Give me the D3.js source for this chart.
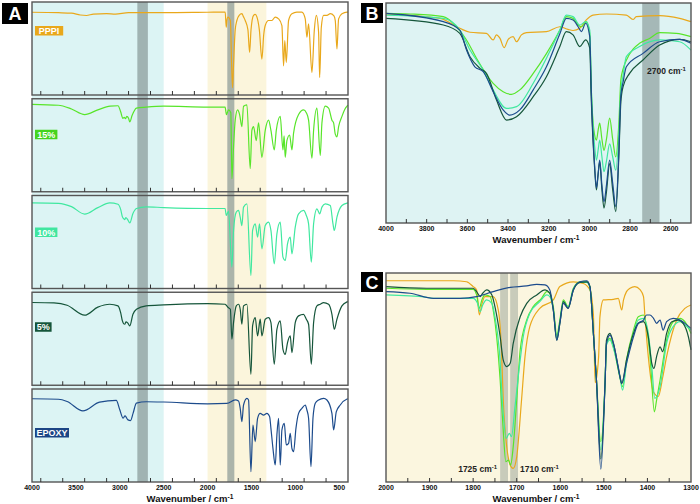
<!DOCTYPE html>
<html>
<head>
<meta charset="utf-8">
<script src="https://cdn.jsdelivr.net/npm/d3@7"></script>
<style>
  body { margin: 0; background: #fff; }
  text { font-family: "Liberation Sans", Arial, sans-serif; font-weight: bold; }
</style>
</head>
<body>
<svg id="chart" width="700" height="504"></svg>
<script>
// sample names, top to bottom in panel A
const sampleNames = ["PPPI", "15%", "10%", "5%", "EPOXY"];

// panel A: full range spectra, [wavenumber, transmittance % of panel]
const pppiA = [[4000,89],[3700,88.5],[3550,88],[3450,86],[3380,85.5],[3300,87],[3150,87.5],[3050,87],[2900,88.5],[2500,88.5],[2000,89],[1799,89.2],[1787,72.9],[1780,80],[1768,83.8],[1740,80],[1725,30],[1715,7.9],[1705,30],[1685,70],[1666,80.1],[1640,85.6],[1609,87.4],[1590,84],[1571,80.1],[1540,70],[1521,45.8],[1505,70],[1476,85.6],[1457,86.6],[1438,84],[1410,70],[1381,38.6],[1360,65],[1343,74.7],[1305,80.1],[1267,80.1],[1229,83.8],[1191,81.9],[1153,74.7],[1134,31.4],[1120,58.5],[1103,35],[1077,80.1],[1039,87.4],[982,89.2],[925,89.2],[887,81.9],[868,62.1],[849,76.5],[811,24.2],[784,69.3],[761,85.6],[735,67.5],[723,18.8],[704,72.9],[678,85.6],[640,85.6],[602,87.4],[560,85],[545,80],[526,49.5],[507,81.9],[469,87.4],[411,89.2],[400,89.2]];
const pct15A = [[4000,94],[3700,93],[3550,89],[3400,83],[3250,88],[3110,92],[3020,92.5],[2990,86],[2965,79],[2950,80],[2935,78.5],[2920,81],[2900,79],[2886,75],[2860,82],[2810,90],[2700,91],[2500,92],[2000,91],[1800,91],[1785,83],[1761,88],[1735,85],[1723,14],[1704,48],[1685,77],[1658,88],[1635,83],[1609,70],[1590,92],[1552,93.5],[1514,25],[1495,66],[1476,70],[1445,55],[1419,74],[1381,37],[1343,66],[1305,77],[1278,66],[1240,45],[1217,66],[1172,81],[1141,45],[1128,60],[1115,37],[1096,55],[1065,61],[1039,45],[1020,63],[963,83],[906,88],[875,85],[849,77],[811,36],[792,66],[754,90],[716,39],[697,74],[659,92],[621,90],[583,77],[564,74],[545,62],[526,59],[507,70],[469,81],[440,88],[411,92],[400,93]];
const pct10A = [[4000,92],[3700,91.5],[3550,88],[3400,80],[3250,87],[3114,92],[3020,90.6],[2990,85],[2970,77],[2955,75],[2943,74.1],[2930,76.3],[2910,74],[2886,70.5],[2850,80.6],[2810,86],[2700,87.8],[2500,87],[2000,86],[1800,86],[1787,78.5],[1761,83.2],[1723,22.9],[1704,62.4],[1673,82.1],[1647,83.9],[1628,76.7],[1609,67.7],[1590,87.5],[1552,91],[1506,14],[1487,62.4],[1457,69.5],[1430,55.2],[1408,69.5],[1381,42.7],[1343,67.7],[1305,71.3],[1278,62.4],[1240,26.5],[1210,58.8],[1172,71.3],[1141,33.7],[1115,30.1],[1089,48],[1058,55.2],[1039,37.3],[1001,66],[963,80.3],[906,83.9],[875,78.5],[849,69.5],[818,28.3],[792,69.5],[754,85.7],[723,80.3],[697,87.5],[659,91],[602,89.2],[571,69.5],[556,62.4],[526,76.7],[469,89.2],[411,91.8],[400,92]];
const pct5A = [[4000,89],[3750,88.5],[3600,86],[3400,75.3],[3250,84],[3114,87.1],[3020,85.3],[2990,78],[2970,69.2],[2955,66],[2943,65.6],[2930,68.1],[2910,67],[2886,63.8],[2850,76.3],[2810,81.7],[2700,85.3],[2500,86.4],[2000,87.8],[1800,87.1],[1787,86],[1770,84],[1740,81.7],[1723,49.5],[1704,67.4],[1673,85.3],[1647,87.1],[1628,81.7],[1609,65.6],[1590,85.3],[1552,87.1],[1506,11.8],[1487,63.8],[1457,72.8],[1430,53],[1400,71],[1381,53],[1343,71],[1305,72.8],[1278,67.4],[1240,22.6],[1210,60.2],[1172,69.2],[1141,38.7],[1115,33.3],[1089,45.9],[1058,53],[1039,35.1],[1001,67.4],[963,74.6],[906,76.3],[875,71],[849,65.6],[818,22.6],[792,67.4],[754,85.3],[716,87.1],[678,88.9],[621,87.1],[583,76.3],[556,60.2],[526,71],[469,85.3],[411,89.6],[400,90]];
const epoxyA = [[4000,89.5],[3700,89],[3600,86.6],[3420,76.5],[3230,85.9],[3040,87.7],[3000,77.6],[2962,68.6],[2940,71.1],[2906,66.8],[2878,66.1],[2848,74],[2811,84.8],[2697,86.3],[2500,86],[2000,84.1],[1780,84.6],[1685,88.2],[1647,87.1],[1628,79.2],[1609,64.9],[1590,82.8],[1552,90],[1533,88.2],[1506,11.1],[1483,61.3],[1457,43.4],[1430,68.5],[1400,73.8],[1362,72],[1324,73.8],[1293,70.3],[1278,57.7],[1255,36.2],[1229,18.3],[1210,50.5],[1191,68.5],[1172,18.3],[1153,55.9],[1126,63.1],[1103,39.8],[1077,41.6],[1058,52.3],[1039,36.2],[1020,32.6],[993,57.7],[963,73.8],[925,79.2],[887,82.8],[868,77.4],[849,68.5],[822,16.5],[799,68.5],[773,84.6],[735,88.2],[678,90],[640,88.2],[583,73.8],[564,55.9],[533,75.6],[488,82.8],[411,89.2],[400,89.5]];

// panel B: 4000-2500 cm-1
const pppiB = [[4000,95],[3735,93],[3637,88.5],[3587,86.7],[3506,86.2],[3473,83.2],[3457,85.5],[3440,84],[3419,79.7],[3399,83.5],[3375,84.7],[3358,82.4],[3334,85.5],[3309,86.5],[3211,87],[3145,89.2],[3105,88],[3080,87.5],[3047,88.5],[3015,92.3],[2982,94.5],[2916,95],[2818,94.5],[2785,92.5],[2769,93.8],[2654,94.3],[2556,93],[2500,91.5]];
const pct15B = [[4000,95.3],[3882,95],[3718,93.8],[3653,89.2],[3604,83.2],[3555,74.9],[3473,63.5],[3424,59.7],[3383,58.5],[3342,60.5],[3276,68],[3211,77],[3145,87.7],[3113,93.8],[3080,93],[3055,90],[3039,89.2],[3015,91.5],[2998,86],[2990,60],[2974,40],[2965,37.7],[2957,42],[2949,45.4],[2938,38],[2928,33],[2916,38],[2900,47.7],[2885,38],[2870,30],[2855,45],[2845,65],[2834,70],[2818,74],[2785,79],[2753,81.7],[2704,83.9],[2654,86.5],[2573,86.2],[2500,84.7]];
const pct10B = [[4000,94.5],[3718,93],[3637,87.7],[3587,78.6],[3522,69.5],[3473,60.5],[3407,52.1],[3358,52.9],[3276,63.5],[3211,74.9],[3145,87.7],[3113,94.5],[3080,93.8],[3047,90],[3018,91.5],[2998,87.7],[2990,60],[2974,35],[2965,28.6],[2957,33],[2949,37.7],[2938,30],[2928,23.3],[2916,28],[2900,36],[2885,30],[2870,24],[2855,40],[2845,60],[2834,67],[2818,75.6],[2753,80.2],[2654,83.2],[2556,82.4],[2500,78.6]];
const pct5B = [[4000,93],[3718,90],[3637,86.2],[3587,75.6],[3538,70.3],[3506,68],[3457,56],[3407,46.8],[3358,48.3],[3276,57.4],[3211,66.5],[3145,80.2],[3113,87],[3080,85.5],[3047,80.2],[3018,83.2],[2998,79.5],[2990,55],[2974,25],[2965,15],[2957,22],[2949,27.9],[2938,15],[2928,6.8],[2916,14],[2900,27],[2885,15],[2870,5.2],[2855,30],[2845,55],[2834,62],[2802,68],[2736,74.1],[2654,80.9],[2556,83.5],[2500,82.4]];
const epoxyB = [[4000,95.3],[3718,91.5],[3637,87.7],[3604,78.6],[3563,71],[3522,68.8],[3473,59.7],[3424,51.4],[3391,49],[3342,51.4],[3276,60.5],[3211,71],[3145,86],[3113,93],[3080,92.3],[3055,89.2],[3039,87],[3018,90.8],[2998,84.7],[2990,58],[2974,26],[2965,16],[2957,22],[2949,28.6],[2938,17],[2928,9.7],[2916,17],[2900,28.6],[2885,18],[2870,7.4],[2855,32],[2845,58],[2834,64],[2818,71],[2736,77.1],[2654,82.4],[2556,83.5],[2500,81.7]];

// panel C: 2000-1300 cm-1
const pppiC = [[2000,96.3],[1845,96.3],[1815,95.8],[1800,93.5],[1792,91.9],[1786,80],[1780,85],[1773,88.7],[1754,88.7],[1742,82],[1735,63],[1731,40],[1723,17],[1712,7],[1708,6.5],[1700,12],[1689,39],[1681,60],[1670,74.3],[1647,83.1],[1616,87.1],[1601,93.5],[1570,95.8],[1547,95],[1532,91.9],[1524,80],[1520,47.5],[1512,60],[1509,79],[1501,87.1],[1478,87.4],[1467,87.9],[1459,82.3],[1455,87],[1448,91.1],[1440,92.7],[1429,93.5],[1417,92],[1409,88.7],[1406,80],[1398,60],[1386,43],[1375,41],[1365,50],[1356,60],[1333,77.5],[1314,83.1],[1300,84.7]];
const pct15C = [[2000,92.7],[1907,92.2],[1800,92.2],[1792,89.5],[1786,83.1],[1780,87.1],[1773,89.5],[1761,88.7],[1754,82.3],[1746,69.5],[1738,48.8],[1731,24.9],[1725,9.7],[1719,10.5],[1714,8.1],[1708,16.9],[1700,39.2],[1692,63.2],[1677,77.5],[1662,83.9],[1643,87.9],[1631,91.1],[1624,90.3],[1616,83.9],[1608,70.3],[1601,77.5],[1593,87.1],[1582,83.9],[1570,92.7],[1555,95.8],[1539,95.8],[1532,93.5],[1524,71],[1517,48.8],[1507,19.3],[1497,48.8],[1494,66.3],[1486,68.7],[1478,64.7],[1463,50],[1457,45.6],[1448,58.4],[1432,72.7],[1421,79.1],[1409,79.9],[1402,74.3],[1394,60],[1384,33.6],[1379,39.2],[1371,48.8],[1356,67.9],[1341,76.7],[1325,78.3],[1314,76.7],[1300,71.1]];
const pct10C = [[2000,89.5],[1907,88.4],[1891,87.9],[1800,87.9],[1790,85.5],[1784,81.5],[1778,84.7],[1769,87.1],[1757,85.5],[1750,79.1],[1740,63.2],[1731,32.8],[1724,20.9],[1717,23.3],[1712,21.7],[1704,36],[1692,58.4],[1685,69.5],[1670,80.7],[1647,86.3],[1631,89.5],[1624,88.7],[1616,82.3],[1608,68.7],[1601,76.7],[1593,86.3],[1582,83.6],[1570,92.2],[1555,95.5],[1539,95.5],[1532,93.1],[1524,71],[1517,48.8],[1507,15.3],[1497,48.8],[1494,65.5],[1486,68],[1478,64],[1463,50],[1457,44],[1448,56.8],[1432,71.1],[1421,77.5],[1409,78.3],[1398,71.1],[1390,55.2],[1383,40],[1371,45.6],[1356,66.3],[1341,74.3],[1325,76.7],[1314,75.1],[1300,72.7]];
const pct5C = [[2000,93.5],[1907,92.7],[1800,92.7],[1792,91.1],[1784,88.7],[1778,90.3],[1769,91.9],[1757,89.5],[1750,83.9],[1738,69.5],[1731,58.4],[1723,55.2],[1715,56.8],[1708,66.3],[1692,79.1],[1677,85.5],[1654,89.5],[1635,91.9],[1624,90.3],[1616,82.3],[1608,67.9],[1601,75.9],[1593,86.3],[1582,83.1],[1570,91.9],[1555,95.5],[1539,95.8],[1532,93.5],[1524,71],[1517,48.8],[1507,11],[1497,48.8],[1494,67.9],[1486,71.1],[1478,66.3],[1463,50.4],[1459,47],[1448,58.4],[1432,71.1],[1421,75.9],[1409,76.7],[1398,69.5],[1390,56.8],[1385,54.4],[1379,60],[1371,64.7],[1365,62.4],[1356,71.1],[1344,76.7],[1329,77.5],[1318,75.9],[1306,69.5],[1300,63.2]];
const epoxyC = [[2000,91.1],[1945,90.3],[1891,87.9],[1830,87.9],[1792,88.7],[1754,91.1],[1715,93.1],[1677,93.8],[1654,94.6],[1635,94.3],[1624,91.9],[1616,82.3],[1608,67.9],[1601,75.9],[1593,85.5],[1582,83.1],[1570,91.9],[1555,95.8],[1539,96.3],[1532,93.5],[1524,71.1],[1517,48.8],[1507,6.1],[1497,48.8],[1494,66.3],[1486,70.3],[1478,66.3],[1467,55.2],[1459,47.2],[1448,56.8],[1432,69.5],[1421,75.9],[1409,77.5],[1402,79.9],[1394,79.9],[1386,78.3],[1379,75.9],[1371,77.5],[1364,72.7],[1356,76.7],[1341,78.3],[1325,77.5],[1314,75.9],[1300,73.5]];

// shaded wavenumber bands
const cyanBandA = [4000, 2500];
const yellowBandA = [2000, 1330];
const greyBandsA = [[2800, 2680], [1775, 1695]];
const greyBandsB = [[2740, 2655]];
const greyBandsC = [[1738, 1720], [1715, 1697]];

// tick values
const ticksA = [4000, 3500, 3000, 2500, 2000, 1500, 1000, 500];
const ticksB = [4000, 3800, 3600, 3400, 3200, 3000, 2800, 2600];
const ticksC = [2000, 1900, 1800, 1700, 1600, 1500, 1400, 1300];

const seriesA = [pppiA, pct15A, pct10A, pct5A, epoxyA];
const seriesB = [pppiB, pct15B, pct10B, pct5B, epoxyB];
const seriesC = [pppiC, pct15C, pct10C, pct5C, epoxyC];

const colors = ["#e9a81b", "#58e52a", "#40e8a0", "#15553a", "#1c4b8c"];
const tagColors = ["#e9a81b", "#45d41f", "#40e6a0", "#15553a", "#1c4585"];
const tagOffsets = [24, 31, 32, 30, 39];

const svg = d3.select("#chart");
const frame = "#555";

function superCm(sel, prefix) {
    sel.text(prefix + "cm");
    sel.append("tspan").attr("dy", -3.5).attr("font-size", "0.7em").text("-1");
}

function panelLetter(x, y, w, h, letter) {
    svg.append("rect").attr("x", x).attr("y", y).attr("width", w).attr("height", h).attr("fill", "#000");
    svg.append("text").attr("x", x + w / 2).attr("y", y + h / 2 + 6.5)
        .attr("text-anchor", "middle").attr("fill", "#fff").attr("font-size", 18).text(letter);
}

function bottomAxis(x, y0, y1, ticks, minorStep, labeled) {
    const [d0, d1] = x.domain();
    const minor = d3.range(d1, d0 + 0.1, minorStep).filter(t => t < d0 && t > d1);
    svg.append("g").selectAll("line").data(minor).join("line")
        .attr("x1", d => x(d)).attr("x2", d => x(d))
        .attr("y1", y1).attr("y2", y1 - 4)
        .attr("stroke", "#333").attr("stroke-width", 1);
    if (labeled) {
        svg.append("g").selectAll("text").data(ticks).join("text")
            .attr("x", d => x(d)).attr("y", y1 + 8)
            .attr("text-anchor", "middle").attr("font-size", 7).attr("fill", "#111")
            .text(d => d);
    }
}

function axisTitle(cx, y) {
    const t = svg.append("text").attr("x", cx).attr("y", y).attr("text-anchor", "middle")
        .attr("font-size", 9.5).attr("fill", "#111");
    superCm(t, "Wavenumber / ");
}

const line = (x, y) => d3.line().x(d => x(d[0])).y(d => y(d[1])).curve(d3.curveMonotoneX);

// ---------- panel A ----------
const xA = d3.scaleLinear().domain([4000, 400]).range([32, 348]);
const topA = 2, botA = 482, stepA = 96.75, hA = 93;

svg.append("rect").attr("x", xA(cyanBandA[0])).attr("y", topA)
    .attr("width", xA(cyanBandA[1]) - xA(cyanBandA[0])).attr("height", botA - topA).attr("fill", "#dcf4f4");
svg.append("rect").attr("x", xA(yellowBandA[0])).attr("y", topA)
    .attr("width", xA(yellowBandA[1]) - xA(yellowBandA[0])).attr("height", botA - topA).attr("fill", "#fbf5dc");
svg.append("g").selectAll("rect").data(greyBandsA).join("rect")
    .attr("x", d => xA(d[0])).attr("width", d => xA(d[1]) - xA(d[0]))
    .attr("y", topA).attr("height", botA - topA)
    .attr("fill", "#7f918f").attr("opacity", 0.65);

seriesA.forEach((data, i) => {
    const t = topA + i * stepA, b = t + hA;
    const y = d3.scaleLinear().domain([0, 100]).range([b, t]);
    svg.append("path").datum(data).attr("d", line(xA, y))
        .attr("fill", "none").attr("stroke", colors[i]).attr("stroke-width", 1.2);
    svg.append("rect").attr("x", 32).attr("y", t).attr("width", 316).attr("height", hA)
        .attr("fill", "none").attr("stroke", frame).attr("stroke-width", 1.4);
    bottomAxis(xA, t, b, ticksA, 250, i === seriesA.length - 1);

    const tw = sampleNames[i].length * 5.8 + 5;
    svg.append("rect").attr("x", 35).attr("y", t + tagOffsets[i]).attr("width", tw).attr("height", 9.5)
        .attr("fill", tagColors[i]);
    svg.append("text").attr("x", 35 + tw / 2).attr("y", t + tagOffsets[i] + 8.2)
        .attr("text-anchor", "middle").attr("font-size", 9).attr("fill", "#fff").text(sampleNames[i]);
});
axisTitle(190, 502);
panelLetter(2, 3, 26, 21, "A");

// ---------- panel B ----------
const xB = d3.scaleLinear().domain([4000, 2500]).range([386, 691]);
const yB = d3.scaleLinear().domain([0, 100]).range([223, 3]);
svg.append("rect").attr("x", 386).attr("y", 3).attr("width", 305).attr("height", 220).attr("fill", "#def3f3");
svg.append("g").selectAll("rect").data(greyBandsB).join("rect")
    .attr("x", d => xB(d[0])).attr("width", d => xB(d[1]) - xB(d[0]))
    .attr("y", 3).attr("height", 220).attr("fill", "#7f918f").attr("opacity", 0.6);
seriesB.forEach((data, i) => {
    svg.append("path").datum(data).attr("d", line(xB, yB))
        .attr("fill", "none").attr("stroke", colors[i]).attr("stroke-width", 1.2);
});
svg.append("rect").attr("x", 386).attr("y", 3).attr("width", 305).attr("height", 220)
    .attr("fill", "none").attr("stroke", frame).attr("stroke-width", 1.4);
bottomAxis(xB, 3, 223, ticksB, 100, true);
axisTitle(536, 243);
superCm(svg.append("text").attr("x", 647).attr("y", 74).attr("font-size", 8.5).attr("fill", "#222"), "2700 ");
panelLetter(361, 3, 22, 20, "B");

// ---------- panel C ----------
const xC = d3.scaleLinear().domain([2000, 1300]).range([386, 691]);
const yC = d3.scaleLinear().domain([0, 100]).range([482, 273]);
svg.append("rect").attr("x", 386).attr("y", 273).attr("width", 305).attr("height", 209).attr("fill", "#fbf6df");
svg.append("g").selectAll("rect").data(greyBandsC).join("rect")
    .attr("x", d => xC(d[0])).attr("width", d => xC(d[1]) - xC(d[0]))
    .attr("y", 273).attr("height", 209).attr("fill", "#8a968f").attr("opacity", 0.45);
seriesC.forEach((data, i) => {
    svg.append("path").datum(data).attr("d", line(xC, yC))
        .attr("fill", "none").attr("stroke", colors[i]).attr("stroke-width", 1.2);
});
svg.append("rect").attr("x", 386).attr("y", 273).attr("width", 305).attr("height", 209)
    .attr("fill", "none").attr("stroke", frame).attr("stroke-width", 1.4);
bottomAxis(xC, 273, 482, ticksC, 50, true);
axisTitle(536, 502);
superCm(svg.append("text").attr("x", 497).attr("y", 472).attr("text-anchor", "end")
    .attr("font-size", 8.5).attr("fill", "#222"), "1725 ");
superCm(svg.append("text").attr("x", 520).attr("y", 472)
    .attr("font-size", 8.5).attr("fill", "#222"), "1710 ");
panelLetter(361, 272, 22, 20, "C");
</script>
</body>
</html>
